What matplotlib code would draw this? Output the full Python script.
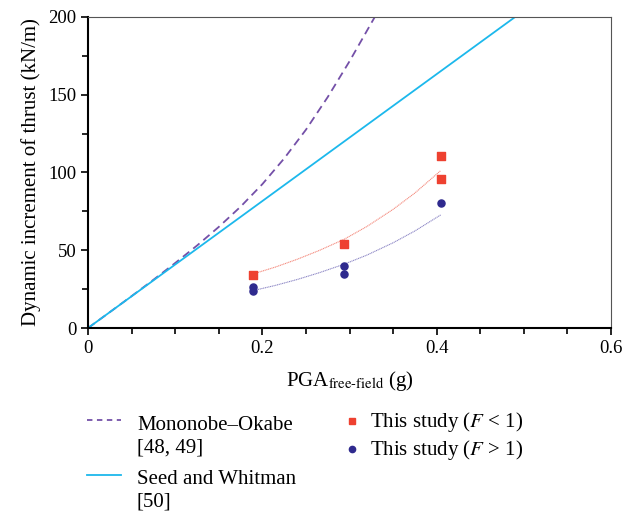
import numpy as np
from matplotlib import pyplot as plt
from matplotlib.lines import Line2D
from matplotlib.ticker import MultipleLocator

plt.rcParams['font.family'] = ['Liberation Serif', 'DejaVu Serif']
plt.rcParams['mathtext.fontset'] = 'stix'

# Mononobe-Okabe curve
mo_x = [0, 0.025, 0.05, 0.075, 0.1, 0.125, 0.15, 0.175, 0.2, 0.225, 0.25, 0.275, 0.3, 0.329]
mo_y = [0, 10.2, 20.5, 31, 41.8, 53, 65, 78, 92.5, 109, 127.5, 148.5, 171.5, 200]

# Seed and Whitman line
sw_x = [0, 0.49]
sw_y = [0, 200]

# This study, F < 1
f_lt1_x = [0.189, 0.2937, 0.4046, 0.4046]
f_lt1_y = [34.3, 54.2, 95.8, 110.6]
# This study, F > 1
f_gt1_x = [0.189, 0.189, 0.2937, 0.2937, 0.4046]
f_gt1_y = [26.6, 23.6, 39.9, 34.9, 80.6]

# trend lines
trend_x = [0.189, 0.215, 0.24, 0.265, 0.2937, 0.32, 0.35, 0.375, 0.4046]
trend_lt1 = [34.7, 39.2, 44.2, 49.8, 57, 65.3, 76.3, 86.8, 101.2]
trend_gt1 = [24, 27.4, 31.2, 35.5, 41, 46.9, 54.8, 62.4, 72.7]

MO_COLOR = '#7450a8'
SW_COLOR = '#1cb8ec'
RED = '#ee4130'
BLUE = '#2f2a8e'

W, H = 623, 515


def px(x, y):
    # pixel position -> figure fraction
    return x / W, 1 - y / H


def legendLine(fig, y, **kw):
    x0, fy = px(87, y)
    x1, _ = px(121, y)
    fig.add_artist(Line2D([x0, x1], [fy, fy], transform=fig.transFigure, **kw))


def legendText(fig, x, y, s):
    fx, fy = px(x, y)
    fig.text(fx, fy, s, fontsize=15, va='baseline', ha='left', linespacing=1.25)


def main():
    fig = plt.figure(figsize=(W / 100, H / 100), dpi=100)
    ax = fig.add_axes([0.1413, 0.3631, 0.8394, 0.6039])

    ax.plot(mo_x, mo_y, color=MO_COLOR, lw=1.3, ls=(0, (4.5, 2.8)))
    ax.plot(sw_x, sw_y, color=SW_COLOR, lw=1.3)
    ax.plot(trend_x, trend_lt1, color='#f4897c', lw=0.8, ls=(0, (1, 0.6)))
    ax.plot(trend_x, trend_gt1, color='#8a84c4', lw=0.8, ls=(0, (1, 0.6)))
    ax.scatter(f_lt1_x, f_lt1_y, marker='s', s=26, color=RED, zorder=3)
    ax.scatter(f_gt1_x, f_gt1_y, marker='o', s=26, color=BLUE, zorder=3)

    ax.set_xlim(0, 0.6)
    ax.set_ylim(0, 200)
    ax.xaxis.set_minor_locator(MultipleLocator(0.05))
    ax.yaxis.set_major_locator(MultipleLocator(50))
    ax.yaxis.set_minor_locator(MultipleLocator(25))
    ax.set_xticks([0, 0.2, 0.4, 0.6])
    ax.set_xticklabels(['0', '0.2', '0.4', '0.6'])
    ax.tick_params(which='both', direction='out', width=1.2, labelsize=13.5)
    ax.tick_params(which='major', length=5)
    ax.tick_params(which='minor', length=4)
    for side in ['left', 'bottom']:
        ax.spines[side].set_linewidth(1.5)
    for side in ['top', 'right']:
        ax.spines[side].set_linewidth(0.8)
        ax.spines[side].set_color('#555555')

    ax.set_xlabel(r'PGA$_{\mathrm{free\text{-}field}}$ (g)', fontsize=15, labelpad=9)
    ax.set_ylabel('Dynamic increment of thrust (kN/m)', fontsize=15, labelpad=5)

    # legend, laid out by hand like the original
    legendLine(fig, 420, color=MO_COLOR, lw=1.3, ls=(0, (3, 2.5)))
    legendText(fig, 137, 452, 'Mononobe\u2013Okabe\n[48, 49]')
    legendLine(fig, 475, color=SW_COLOR, lw=1.3)
    legendText(fig, 137, 507, 'Seed and Whitman\n[50]')

    mx, my = px(352, 421)
    fig.add_artist(Line2D([mx], [my], transform=fig.transFigure, marker='s',
                          markersize=4.5, color=RED, ls='none'))
    mx, my = px(352, 449)
    fig.add_artist(Line2D([mx], [my], transform=fig.transFigure, marker='o',
                          markersize=4.5, color=BLUE, ls='none'))
    legendText(fig, 370, 427, r'This study ($F$ < 1)')
    legendText(fig, 370, 455, r'This study ($F$ > 1)')

    fig.savefig('out.png', dpi=100)


if __name__ == '__main__':
    main()
